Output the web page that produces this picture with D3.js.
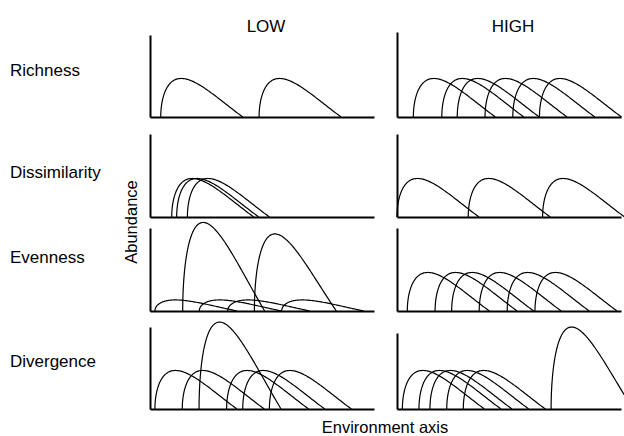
<!DOCTYPE html>
<html>
<head>
<meta charset="utf-8">
<script src="https://cdn.jsdelivr.net/npm/d3@7"></script>
<style>
  body { margin: 0; background: #fff; }
  text { font-family: "Liberation Sans", Arial, sans-serif; fill: #000; }
</style>
</head>
<body>
<script>
var columns = ["LOW", "HIGH"];
var rows = ["Richness", "Dissimilarity", "Evenness", "Divergence"];

// niche breadth along the environment axis (0-100 units)
var breadth = 36.6;

// [start of niche on environment axis, peak abundance]
var richnessLow = [[4.8, 47], [48.7, 47]];
var richnessHigh = [[7.3, 47], [20, 47], [26.9, 47], [39.3, 47], [51.7, 47], [63.6, 47]];
var dissimilarityLow = [[9.7, 47], [11.9, 47], [16.7, 47]];
var dissimilarityHigh = [[0, 47], [31.8, 47], [65, 47]];
var evennessLow = [[14.6, 108], [46.6, 94], [2.2, 13.5], [22, 13.5], [34.7, 13.5], [58.8, 13.5]];
var evennessHigh = [[4.6, 47], [17, 47], [24.4, 47], [36.7, 47], [49.2, 47], [61.6, 47]];
var divergenceLow = [[2.2, 47], [14.4, 47], [21.9, 106], [34.2, 47], [41.4, 47], [53.3, 47]];
var divergenceHigh = [[2.4, 47], [9.8, 47], [14.7, 47], [22.2, 47], [29.6, 47], [68.8, 100]];

var panelData = [
  [richnessLow, richnessHigh],
  [dissimilarityLow, dissimilarityHigh],
  [evennessLow, evennessHigh],
  [divergenceLow, divergenceHigh]
];

var width = 624, height = 436;
var colX = [150, 397];
var panelW = 224;
var baselines = [117, 217, 311, 409];
var axisTops = [[35, 32], [134, 134], [228, 228], [327, 333]];
var unitH = 82; // pixels for 100 abundance units

var svg = d3.select("body").append("svg")
  .attr("width", width)
  .attr("height", height);

// niche shape: steep rise, gradual fall
function nichePoints(d) {
  return d3.range(0, 101).map(function(i) {
    var s = i / 100;
    return { env: d[0] + breadth * s * s, ab: d[1] * Math.sin(Math.PI * s) };
  });
}

rows.forEach(function(rowName, r) {
  columns.forEach(function(colName, c) {
    var base = baselines[r];
    var top = axisTops[r][c];
    var x = d3.scaleLinear().domain([0, 100]).range([colX[c], colX[c] + panelW]);
    var y = d3.scaleLinear()
      .domain([0, (base - top) / unitH * 100])
      .range([base, top]);

    var g = svg.append("g");

    var line = d3.line()
      .x(function(p) { return x(p.env); })
      .y(function(p) { return y(p.ab); });

    g.selectAll("path.niche")
      .data(panelData[r][c])
      .enter()
      .append("path")
      .attr("class", "niche")
      .attr("d", function(d) { return line(nichePoints(d)); })
      .attr("fill", "none")
      .attr("stroke", "#000")
      .attr("stroke-width", 1.2);

    var xAxis = g.append("g")
      .attr("transform", "translate(0," + base + ")")
      .call(d3.axisBottom(x).tickValues([]).tickSizeOuter(0));
    var yAxis = g.append("g")
      .attr("transform", "translate(" + colX[c] + ",0)")
      .call(d3.axisLeft(y).tickValues([]).tickSizeOuter(0));
    g.selectAll(".domain").attr("stroke", "#000").attr("stroke-width", 2);
  });
});

svg.selectAll("text.col")
  .data(columns)
  .enter()
  .append("text")
  .attr("class", "col")
  .attr("x", function(d, i) { return colX[i] + panelW / 2 + 4; })
  .attr("y", 32)
  .attr("text-anchor", "middle")
  .style("font-size", "17px")
  .text(function(d) { return d; });

var rowLabelY = [76, 178, 263, 367];
svg.selectAll("text.row")
  .data(rows)
  .enter()
  .append("text")
  .attr("class", "row")
  .attr("x", 10)
  .attr("y", function(d, i) { return rowLabelY[i]; })
  .style("font-size", "17px")
  .text(function(d) { return d; });

svg.append("text")
  .attr("transform", "translate(137,222) rotate(-90)")
  .attr("text-anchor", "middle")
  .style("font-size", "16.5px")
  .text("Abundance");

svg.append("text")
  .attr("x", 385)
  .attr("y", 433)
  .attr("text-anchor", "middle")
  .style("font-size", "16.5px")
  .text("Environment axis");
</script>
</body>
</html>
